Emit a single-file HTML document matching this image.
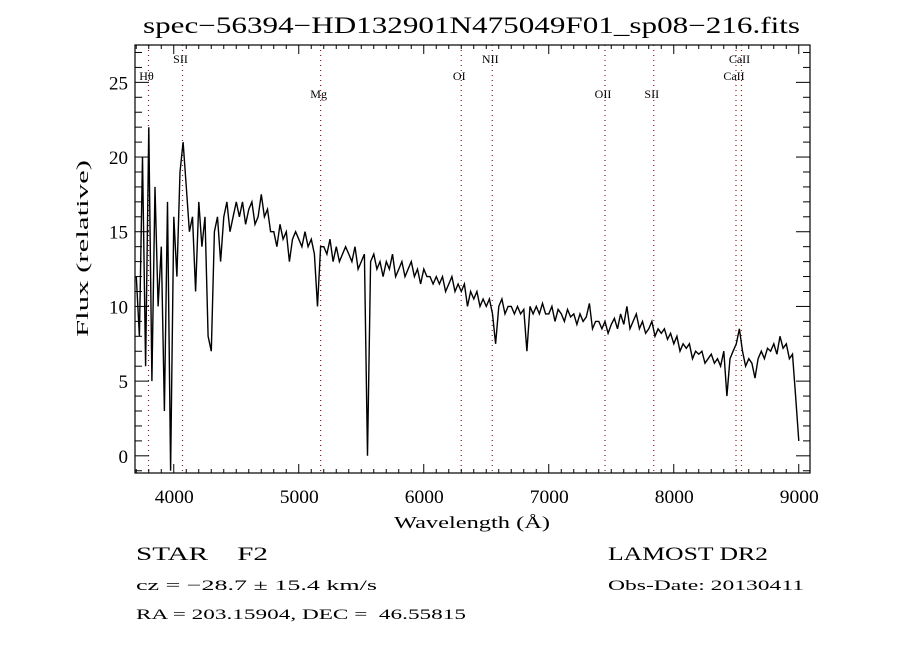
<!DOCTYPE html>
<html><head><meta charset="utf-8"><style>
body{margin:0;background:#fff;width:900px;height:650px;overflow:hidden}
svg text{font-family:"Liberation Serif",serif}
</style></head><body>
<svg id="chart" width="900" height="650" viewBox="0 0 900 650">
<rect width="900" height="650" fill="#fff"/>
<text x="143" y="33" font-size="23" textLength="657" lengthAdjust="spacingAndGlyphs">spec−56394−HD132901N475049F01_sp08−216.fits</text>
<g id="plot"></g>
<text x="394" y="528" font-size="17" textLength="156" lengthAdjust="spacingAndGlyphs">Wavelength (Å)</text>
<text transform="translate(88,337) rotate(-90)" font-size="17" textLength="177" lengthAdjust="spacingAndGlyphs">Flux (relative)</text>
<text x="136" y="560" font-size="19" textLength="132" lengthAdjust="spacingAndGlyphs" style="white-space:pre">STAR    F2</text>
<text x="136" y="590" font-size="15" textLength="241" lengthAdjust="spacingAndGlyphs">cz = −28.7 ± 15.4 km/s</text>
<text x="136" y="619" font-size="15" textLength="330" lengthAdjust="spacingAndGlyphs" style="white-space:pre">RA = 203.15904, DEC =  46.55815</text>
<text x="608" y="560" font-size="19" textLength="160" lengthAdjust="spacingAndGlyphs">LAMOST DR2</text>
<text x="608" y="590" font-size="15" textLength="196" lengthAdjust="spacingAndGlyphs">Obs-Date: 20130411</text>
</svg>
<script>
const waveStart = 3700;
const waveStep = 25;
const flux = [12,8,20,6, 22,5,18,10, 14,3,17,-1, 16,12,19,21, 18,15,16,11, 17,14,16,8, 7,15,16,13, 16,17,15,16, 17,16,17,15.5, 16.5,17,15.5,16, 17.5,16,16.5,15, 15,14,15.5,14.5, 15,13,14.5,15, 14.5,14,15,14, 14.5,13.5,10,14, 14,13.5,14.5,13, 14,13,13.5,14, 13.5,13,14,12.5, 13,13.5,0,13, 13.5,12.5,13,12, 13,12.5,13.5,12, 12.5,13,12,12.5, 13,12,12.5,11.5, 12.5,12,12,11.5, 12,11.5,12,11, 11.5,12,11,11.5, 11,11.5,10,11, 10.5,11,10,10.5, 10,10.5,9.5,7.5, 10,10.5,9.5,10, 10,9.5,10,9.5, 9.8,7,10,9.5, 10,9.5,10.2,9.5, 9.5,10,9,9.8, 9.5,9,9.8,9.3, 9.5,8.8,9.5,9, 9.3,10.2,8.5,9, 9,8.5,9,8.2, 8.8,9.2,8.5,9.5, 8.8,10,8.5,9, 9.5,8.5,9,8.2, 8.5,9,8,8.5, 8.2,8.5,7.8,8.2, 7.5,8,7,7.5, 7.2,7.5,6.5,7, 6.8,7,6.2,6.5, 6.8,6.2,6.5,6, 7,4,6.5,7, 7.5,8.5,7,6, 6.5,6.2,5.2,6.5, 7,6.5,7.2,7, 7.5,6.8,8,7.2, 7.5,6.5,6.8,4, 1];
const lineNames = ["Hθ","SII","Mg","OI","NII","OII","SII","CaII","CaII"];
const lineWaves = [3798,4070,5175,6300,6548,7450,7840,8498,8542];
const labelRows = [1,0,2,1,0,2,2,1,0];
const xTicks = [4000,5000,6000,7000,8000,9000];
const yTicks = [0,5,10,15,20,25];

const L=135,R=810,T=45,B=473, X0=3690,X1=9090, Y0=-1.15,Y1=27.5;
const sx=w=>L+(w-X0)/(X1-X0)*(R-L);
const sy=v=>B-(v-Y0)/(Y1-Y0)*(B-T);
const NS="http://www.w3.org/2000/svg";
const g=document.getElementById('plot');
function mk(t,a){const e=document.createElementNS(NS,t);for(const k in a)e.setAttribute(k,a[k]);g.appendChild(e);return e;}

lineWaves.forEach((w,i)=>{
  const l=mk('line',{x1:sx(w),x2:sx(w),y1:T,y2:B,stroke:'#8b1a1a','stroke-width':1.2,'stroke-dasharray':'1,4'});
  
  
  const ly=[63,80,98][labelRows[i]];
  const t=mk('text',{x:sx(w)-2,y:ly,'font-size':12,'text-anchor':'middle'});
  t.textContent=lineNames[i];
  
  
});

const pts=flux.map((v,i)=>sx(waveStart+i*waveStep).toFixed(1)+','+sy(v).toFixed(1)).join(' ');
const pl=mk('polyline',{points:pts,fill:'none',stroke:'#000','stroke-width':1.4});



const fr=mk('rect',{x:L,y:T,width:R-L,height:B-T,fill:'none',stroke:'#000','stroke-width':1.2});



for(let w=3700;w<=9000;w+=100){
  const maj=w%1000===0, len=maj?9:4, x=sx(w);
  mk('line',{x1:x,x2:x,y1:B,y2:B-len,stroke:'#000'});
  mk('line',{x1:x,x2:x,y1:T,y2:T+len,stroke:'#000'});
}
xTicks.forEach(w=>{
  const t=mk('text',{x:sx(w)-19,y:503,'font-size':19,textLength:39,lengthAdjust:'spacingAndGlyphs','font-family':'Liberation Sans, sans-serif'});
  t.textContent=w;
  
  
});
for(let v=-1;v<=27;v++){
  const maj=v%5===0, len=maj?14:7, y=sy(v);
  mk('line',{x1:L,x2:L+len,y1:y,y2:y,stroke:'#000'});
  mk('line',{x1:R,x2:R-len,y1:y,y2:y,stroke:'#000'});
}
yTicks.forEach(v=>{
  const t=mk('text',{x:128,y:sy(v)+7,'font-size':19,'text-anchor':'end','font-family':'Liberation Sans, sans-serif'});
  t.textContent=v;
  
  
});
</script>
</body></html>
